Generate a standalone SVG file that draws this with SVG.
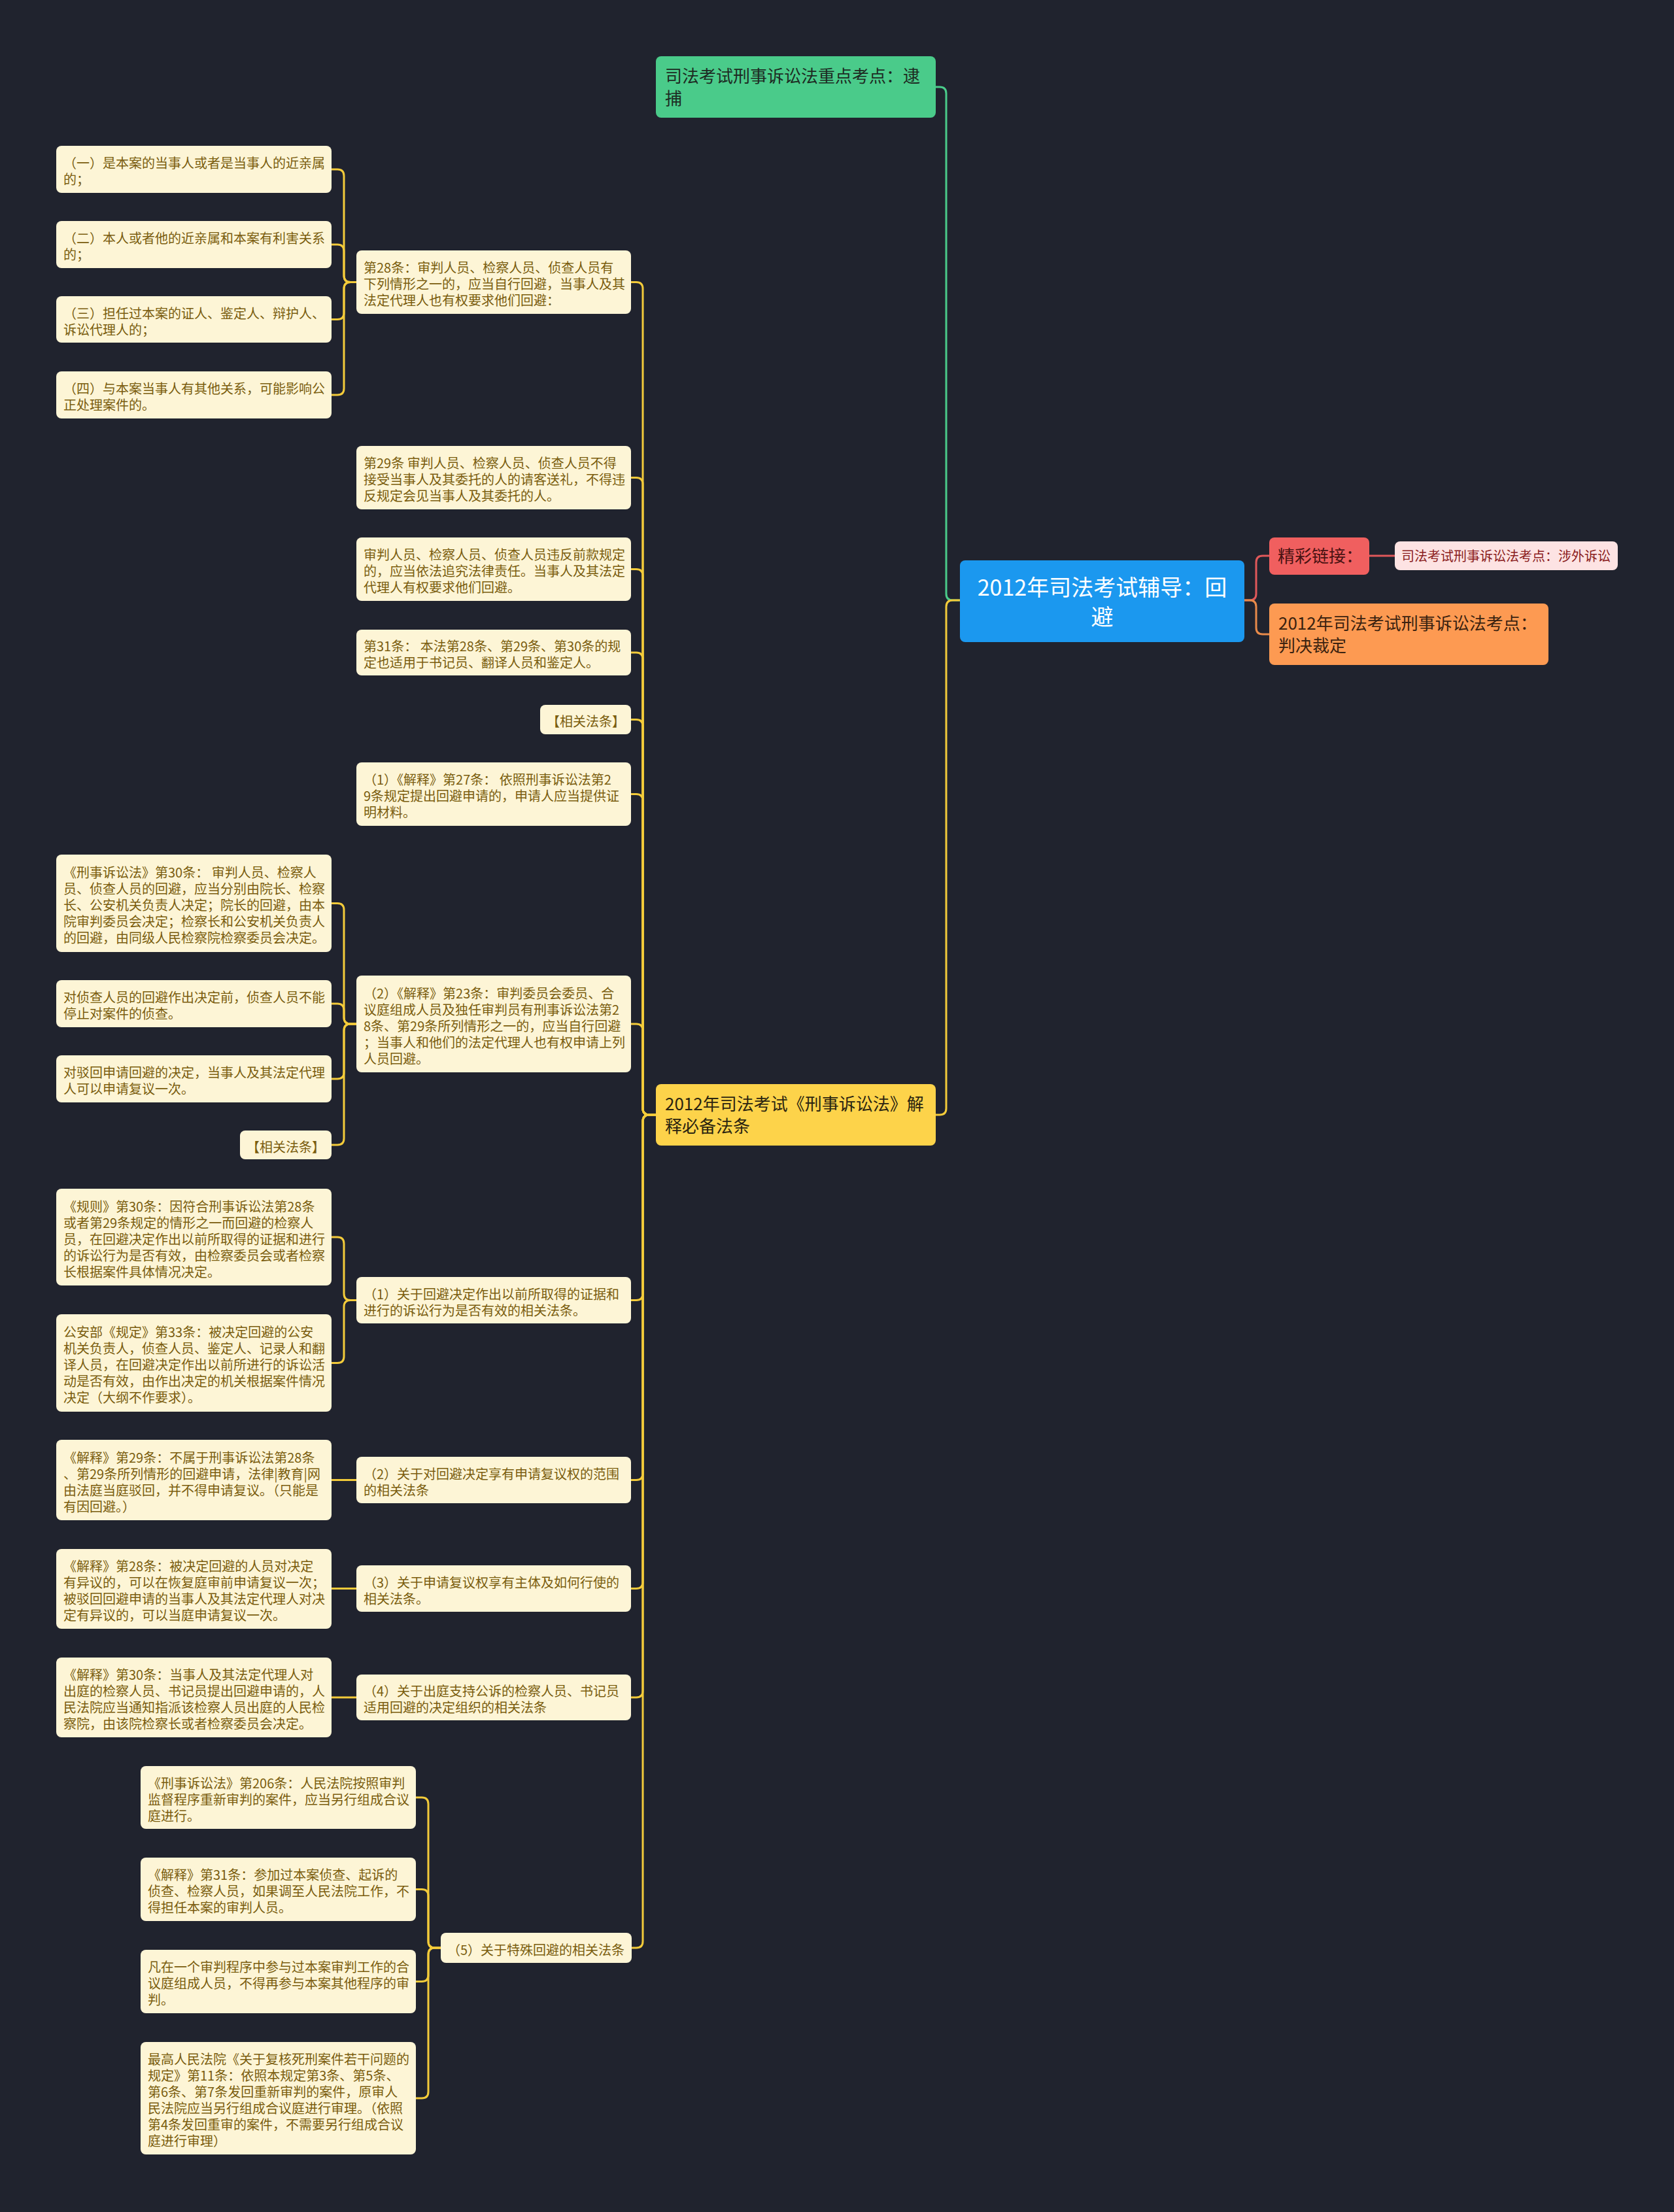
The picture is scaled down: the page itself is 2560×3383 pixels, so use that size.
<svg xmlns="http://www.w3.org/2000/svg" width="2560" height="3383" viewBox="0 0 2560 3383">
<style>
text{font-family:"Noto Sans CJK SC","Noto Sans",sans-serif;}
.c rect{fill:#fdf5d6;}
.c text{font-size:20px;fill:#7a5d0e;transform:translateY(3px);}
.y{fill:none;stroke:#f3cb3a;stroke-width:3;}
.g{fill:none;stroke:#4acb8a;stroke-width:3;}
.r{fill:none;stroke:#e0585a;stroke-width:3;}
.o{fill:none;stroke:#e88a4a;stroke-width:3;}
.big{font-size:26px;}
</style>
<rect width="2560" height="3383" fill="#20232e"/>

<g id="connectors">
<path class="g" d="M1469,918 H1457 Q1447,918 1447,908 V143 Q1447,133 1437,133 H1431"/>
<path class="y" d="M1469,918 H1457 Q1447,918 1447,928 V1695 Q1447,1705 1437,1705 H1431"/>
<path class="r" d="M1902,918 H1911 Q1921,918 1921,908 V860 Q1921,850 1931,850 H1941"/>
<path class="o" d="M1902,918 H1911 Q1921,918 1921,928 V960 Q1921,970 1931,970 H1941"/>
<path class="r" stroke-width="4" d="M2094,850 H2133"/>

<path class="y" d="M1003,1705 H993 Q983,1705 983,1695 V441.5 Q983,431.5 973,431.5 H965"/>
<path class="y" d="M1003,1705 H993 Q983,1705 983,1695 V740.5 Q983,730.5 973,730.5 H965"/>
<path class="y" d="M1003,1705 H993 Q983,1705 983,1695 V880.5 Q983,870.5 973,870.5 H965"/>
<path class="y" d="M1003,1705 H993 Q983,1705 983,1695 V1008 Q983,998 973,998 H965"/>
<path class="y" d="M1003,1705 H993 Q983,1705 983,1695 V1110.5 Q983,1100.5 973,1100.5 H965"/>
<path class="y" d="M1003,1705 H993 Q983,1705 983,1695 V1224.5 Q983,1214.5 973,1214.5 H965"/>
<path class="y" d="M1003,1705 H993 Q983,1705 983,1695 V1576 Q983,1566 973,1566 H965"/>
<path class="y" d="M1003,1705 H993 Q983,1705 983,1715 V1978.5 Q983,1988.5 973,1988.5 H965"/>
<path class="y" d="M1003,1705 H993 Q983,1705 983,1715 V2253.5 Q983,2263.5 973,2263.5 H965"/>
<path class="y" d="M1003,1705 H993 Q983,1705 983,1715 V2419.5 Q983,2429.5 973,2429.5 H965"/>
<path class="y" d="M1003,1705 H993 Q983,1705 983,1715 V2586 Q983,2596 973,2596 H965"/>
<path class="y" d="M1003,1705 H993 Q983,1705 983,1715 V2969 Q983,2979 973,2979 H965"/>

<path class="y" d="M545,431.5 H536 Q526,431.5 526,421.5 V269 Q526,259 516,259 H507"/>
<path class="y" d="M545,431.5 H536 Q526,431.5 526,421.5 V384 Q526,374 516,374 H507"/>
<path class="y" d="M545,431.5 H536 Q526,431.5 526,441.5 V478.5 Q526,488.5 516,488.5 H507"/>
<path class="y" d="M545,431.5 H536 Q526,431.5 526,441.5 V594 Q526,604 516,604 H507"/>

<path class="y" d="M545,1566 H536 Q526,1566 526,1556 V1391.5 Q526,1381.5 516,1381.5 H507"/>
<path class="y" d="M545,1566 H536 Q526,1566 526,1556 V1545 Q526,1535 516,1535 H507"/>
<path class="y" d="M545,1566 H536 Q526,1566 526,1576 V1640 Q526,1650 516,1650 H507"/>
<path class="y" d="M545,1566 H536 Q526,1566 526,1576 V1741 Q526,1751 516,1751 H507"/>

<path class="y" d="M545,1988.5 H536 Q526,1988.5 526,1978.5 V1902 Q526,1892 516,1892 H507"/>
<path class="y" d="M545,1988.5 H536 Q526,1988.5 526,1998.5 V2074.5 Q526,2084.5 516,2084.5 H507"/>
<path class="y" d="M545,2263.5 H507"/>
<path class="y" d="M545,2429.5 H507"/>
<path class="y" d="M545,2596 H507"/>

<path class="y" d="M674,2979 H665 Q655,2979 655,2969 V2759 Q655,2749 645,2749 H636"/>
<path class="y" d="M674,2979 H665 Q655,2979 655,2969 V2899.5 Q655,2889.5 645,2889.5 H636"/>
<path class="y" d="M674,2979 H665 Q655,2979 655,2989 V3020.5 Q655,3030.5 645,3030.5 H636"/>
<path class="y" d="M674,2979 H665 Q655,2979 655,2989 V3199 Q655,3209 645,3209 H636"/>
</g>

<g id="root">
<rect x="1468" y="857" width="435" height="125" rx="8" fill="#1b98ef"/>
<text x="1685.5" y="911" font-size="34" fill="#ffffff" text-anchor="middle">2012年司法考试辅导：回</text>
<text x="1685.5" y="956" font-size="34" fill="#ffffff" text-anchor="middle">避</text>
</g>

<g id="n-green">
<rect x="1003" y="86" width="428" height="94" rx="8" fill="#4acb8a"/>
<text class="big" x="1017" y="126" fill="#1d2a22">司法考试刑事诉讼法重点考点：逮</text>
<text class="big" x="1017" y="160" fill="#1d2a22">捕</text>
</g>

<g id="n-yellow">
<rect x="1003" y="1658" width="428" height="94" rx="8" fill="#fdd34a"/>
<text class="big" x="1017" y="1698" fill="#2a2410">2012年司法考试《刑事诉讼法》解</text>
<text class="big" x="1017" y="1732" fill="#2a2410">释必备法条</text>
</g>

<g id="n-link-label">
<rect x="1941" y="822" width="153" height="57" rx="8" fill="#f05f5f"/>
<text class="big" x="1954" y="860" fill="#4a1212">精彩链接：</text>
</g>

<g id="n-link">
<rect x="2133" y="828" width="341" height="44" rx="8" fill="#fde3e3"/>
<text x="2143" y="858" font-size="20" fill="#8a1c1c">司法考试刑事诉讼法考点：涉外诉讼</text>
</g>

<g id="n-orange">
<rect x="1941" y="923" width="427" height="94" rx="8" fill="#fd9a52"/>
<text class="big" x="1955" y="963" fill="#3a2210">2012年司法考试刑事诉讼法考点：</text>
<text class="big" x="1955" y="997" fill="#3a2210">判决裁定</text>
</g>

<!-- middle column -->
<g id="m1" class="c">
<rect x="545" y="383" width="420" height="97" rx="8"/>
<text x="556" y="414">第28条：审判人员、检察人员、侦查人员有</text>
<text x="556" y="439">下列情形之一的，应当自行回避，当事人及其</text>
<text x="556" y="464">法定代理人也有权要求他们回避：</text>
</g>
<g id="m2" class="c">
<rect x="545" y="682" width="420" height="97" rx="8"/>
<text x="556" y="713">第29条 审判人员、检察人员、侦查人员不得</text>
<text x="556" y="738">接受当事人及其委托的人的请客送礼，不得违</text>
<text x="556" y="763">反规定会见当事人及其委托的人。</text>
</g>
<g id="m3" class="c">
<rect x="545" y="822" width="420" height="97" rx="8"/>
<text x="556" y="853">审判人员、检察人员、侦查人员违反前款规定</text>
<text x="556" y="878">的，应当依法追究法律责任。当事人及其法定</text>
<text x="556" y="903">代理人有权要求他们回避。</text>
</g>
<g id="m4" class="c">
<rect x="545" y="963" width="420" height="70" rx="8"/>
<text x="556" y="993">第31条： 本法第28条、第29条、第30条的规</text>
<text x="556" y="1018">定也适用于书记员、翻译人员和鉴定人。</text>
</g>
<g id="m5" class="c">
<rect x="826" y="1078" width="139" height="45" rx="8"/>
<text x="836" y="1108">【相关法条】</text>
</g>
<g id="m6" class="c">
<rect x="545" y="1166" width="420" height="97" rx="8"/>
<text x="556" y="1197">（1）《解释》第27条： 依照刑事诉讼法第2</text>
<text x="556" y="1222">9条规定提出回避申请的，申请人应当提供证</text>
<text x="556" y="1247">明材料。</text>
</g>
<g id="m7" class="c">
<rect x="545" y="1492" width="420" height="148" rx="8"/>
<text x="556" y="1523.5">（2）《解释》第23条：审判委员会委员、合</text>
<text x="556" y="1548.5">议庭组成人员及独任审判员有刑事诉讼法第2</text>
<text x="556" y="1573.5">8条、第29条所列情形之一的，应当自行回避</text>
<text x="556" y="1598.5">；当事人和他们的法定代理人也有权申请上列</text>
<text x="556" y="1623.5">人员回避。</text>
</g>
<g id="m8" class="c">
<rect x="545" y="1953" width="420" height="71" rx="8"/>
<text x="556" y="1983.5">（1）关于回避决定作出以前所取得的证据和</text>
<text x="556" y="2008.5">进行的诉讼行为是否有效的相关法条。</text>
</g>
<g id="m9" class="c">
<rect x="545" y="2228" width="420" height="71" rx="8"/>
<text x="556" y="2258.5">（2）关于对回避决定享有申请复议权的范围</text>
<text x="556" y="2283.5">的相关法条</text>
</g>
<g id="m10" class="c">
<rect x="545" y="2394" width="420" height="71" rx="8"/>
<text x="556" y="2424.5">（3）关于申请复议权享有主体及如何行使的</text>
<text x="556" y="2449.5">相关法条。</text>
</g>
<g id="m11" class="c">
<rect x="545" y="2561" width="420" height="70" rx="8"/>
<text x="556" y="2591">（4）关于出庭支持公诉的检察人员、书记员</text>
<text x="556" y="2616">适用回避的决定组织的相关法条</text>
</g>
<g id="m12" class="c">
<rect x="674" y="2956" width="292" height="46" rx="8"/>
<text x="684" y="2986.5">（5）关于特殊回避的相关法条</text>
</g>

<!-- left column -->
<g id="l1" class="c">
<rect x="86" y="223" width="421" height="72" rx="8"/>
<text x="97" y="254">（一）是本案的当事人或者是当事人的近亲属</text>
<text x="97" y="279">的；</text>
</g>
<g id="l2" class="c">
<rect x="86" y="338" width="421" height="72" rx="8"/>
<text x="97" y="369">（二）本人或者他的近亲属和本案有利害关系</text>
<text x="97" y="394">的；</text>
</g>
<g id="l3" class="c">
<rect x="86" y="453" width="421" height="71" rx="8"/>
<text x="97" y="483.5">（三）担任过本案的证人、鉴定人、辩护人、</text>
<text x="97" y="508.5">诉讼代理人的；</text>
</g>
<g id="l4" class="c">
<rect x="86" y="568" width="421" height="72" rx="8"/>
<text x="97" y="599">（四）与本案当事人有其他关系，可能影响公</text>
<text x="97" y="624">正处理案件的。</text>
</g>
<g id="l5" class="c">
<rect x="86" y="1307" width="421" height="149" rx="8"/>
<text x="97" y="1339">《刑事诉讼法》第30条： 审判人员、检察人</text>
<text x="97" y="1364">员、侦查人员的回避，应当分别由院长、检察</text>
<text x="97" y="1389">长、公安机关负责人决定；院长的回避，由本</text>
<text x="97" y="1414">院审判委员会决定；检察长和公安机关负责人</text>
<text x="97" y="1439">的回避，由同级人民检察院检察委员会决定。</text>
</g>
<g id="l6" class="c">
<rect x="86" y="1499" width="421" height="72" rx="8"/>
<text x="97" y="1530">对侦查人员的回避作出决定前，侦查人员不能</text>
<text x="97" y="1555">停止对案件的侦查。</text>
</g>
<g id="l7" class="c">
<rect x="86" y="1614" width="421" height="72" rx="8"/>
<text x="97" y="1645">对驳回申请回避的决定，当事人及其法定代理</text>
<text x="97" y="1670">人可以申请复议一次。</text>
</g>
<g id="l8" class="c">
<rect x="367" y="1729" width="140" height="44" rx="8"/>
<text x="377" y="1758.5">【相关法条】</text>
</g>
<g id="l9" class="c">
<rect x="86" y="1818" width="421" height="148" rx="8"/>
<text x="97" y="1849.5">《规则》第30条：因符合刑事诉讼法第28条</text>
<text x="97" y="1874.5">或者第29条规定的情形之一而回避的检察人</text>
<text x="97" y="1899.5">员，在回避决定作出以前所取得的证据和进行</text>
<text x="97" y="1924.5">的诉讼行为是否有效，由检察委员会或者检察</text>
<text x="97" y="1949.5">长根据案件具体情况决定。</text>
</g>
<g id="l10" class="c">
<rect x="86" y="2010" width="421" height="149" rx="8"/>
<text x="97" y="2042">公安部《规定》第33条：被决定回避的公安</text>
<text x="97" y="2067">机关负责人，侦查人员、鉴定人、记录人和翻</text>
<text x="97" y="2092">译人员，在回避决定作出以前所进行的诉讼活</text>
<text x="97" y="2117">动是否有效，由作出决定的机关根据案件情况</text>
<text x="97" y="2142">决定（大纲不作要求）。</text>
</g>
<g id="l11" class="c">
<rect x="86" y="2202" width="421" height="123" rx="8"/>
<text x="97" y="2233.5">《解释》第29条：不属于刑事诉讼法第28条</text>
<text x="97" y="2258.5">、第29条所列情形的回避申请，法律|教育|网</text>
<text x="97" y="2283.5">由法庭当庭驳回，并不得申请复议。（只能是</text>
<text x="97" y="2308.5">有因回避。）</text>
</g>
<g id="l12" class="c">
<rect x="86" y="2369" width="421" height="122" rx="8"/>
<text x="97" y="2400">《解释》第28条：被决定回避的人员对决定</text>
<text x="97" y="2425">有异议的，可以在恢复庭审前申请复议一次；</text>
<text x="97" y="2450">被驳回回避申请的当事人及其法定代理人对决</text>
<text x="97" y="2475">定有异议的，可以当庭申请复议一次。</text>
</g>
<g id="l13" class="c">
<rect x="86" y="2535" width="421" height="122" rx="8"/>
<text x="97" y="2566">《解释》第30条：当事人及其法定代理人对</text>
<text x="97" y="2591">出庭的检察人员、书记员提出回避申请的，人</text>
<text x="97" y="2616">民法院应当通知指派该检察人员出庭的人民检</text>
<text x="97" y="2641">察院，由该院检察长或者检察委员会决定。</text>
</g>

<!-- bottom group -->
<g id="b1" class="c">
<rect x="215" y="2701" width="421" height="96" rx="8"/>
<text x="226" y="2731.5">《刑事诉讼法》第206条：人民法院按照审判</text>
<text x="226" y="2756.5">监督程序重新审判的案件，应当另行组成合议</text>
<text x="226" y="2781.5">庭进行。</text>
</g>
<g id="b2" class="c">
<rect x="215" y="2841" width="421" height="97" rx="8"/>
<text x="226" y="2872">《解释》第31条：参加过本案侦查、起诉的</text>
<text x="226" y="2897">侦查、检察人员，如果调至人民法院工作，不</text>
<text x="226" y="2922">得担任本案的审判人员。</text>
</g>
<g id="b3" class="c">
<rect x="215" y="2982" width="421" height="97" rx="8"/>
<text x="226" y="3013">凡在一个审判程序中参与过本案审判工作的合</text>
<text x="226" y="3038">议庭组成人员，不得再参与本案其他程序的审</text>
<text x="226" y="3063">判。</text>
</g>
<g id="b4" class="c">
<rect x="215" y="3123" width="421" height="172" rx="8"/>
<text x="226" y="3154">最高人民法院《关于复核死刑案件若干问题的</text>
<text x="226" y="3179">规定》第11条：依照本规定第3条、第5条、</text>
<text x="226" y="3204">第6条、第7条发回重新审判的案件，原审人</text>
<text x="226" y="3229">民法院应当另行组成合议庭进行审理。（依照</text>
<text x="226" y="3254">第4条发回重审的案件，不需要另行组成合议</text>
<text x="226" y="3279">庭进行审理）</text>
</g>
</svg>
